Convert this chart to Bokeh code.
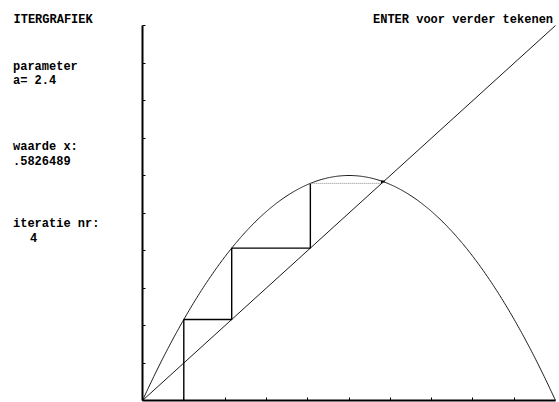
import numpy as np
from bokeh.plotting import figure
from bokeh.models import Range1d, FixedTicker, CustomLabelingPolicy
from bokeh.core.properties import value
from bokeh.embed import file_html
from bokeh.resources import INLINE

# ---- data ----
a_param = 2.4
iterates = [0.1, 0.216, 0.4064256, 0.5789851, 0.5850271, 0.5826489]
x_ticks = [0.1, 0.2, 0.3, 0.4, 0.5, 0.6, 0.7, 0.8, 0.9]
y_ticks = [0.1, 0.2, 0.3, 0.4, 0.5, 0.6, 0.7, 0.8, 0.9, 1.0]
texts = ["ITERGRAFIEK", "ENTER voor verder tekenen", "parameter", "a= 2.4",
         "waarde x:", ".5826489", "iteratie nr:", "4"]

# ---- layout (pixels) ----
W, H = 559, 402
OX, OY = 142, 400          # pixel position of data (0, 0)
SX, SY = 413, 375          # pixels per data unit

p = figure(width=W, height=H, output_backend="svg", toolbar_location=None,
           x_range=Range1d(-OX / SX, (W - OX) / SX),
           y_range=Range1d(-(H - OY) / SY, OY / SY),
           min_border=0)
p.grid.visible = False
p.outline_line_color = None
p.background_fill_color = "white"
p.border_fill_color = "white"

hide_all = CustomLabelingPolicy(code="for (const i of indices) indices.unset(i); return indices")
for ax, ticks in ((p.xaxis[0], x_ticks), (p.yaxis[0], y_ticks)):
    ax.fixed_location = 0
    ax.bounds = (0, 1)
    ax.ticker = FixedTicker(ticks=ticks)
    ax.major_tick_in = 3
    ax.major_tick_out = 0
    ax.minor_tick_in = 0
    ax.minor_tick_out = 0
    ax.major_label_text_font_size = "1px"
    ax.major_label_standoff = 0
    ax.major_label_policy = hide_all
    ax.axis_line_width = 2
    ax.axis_line_color = "black"
    ax.major_tick_line_color = "black"
    ax.major_tick_line_width = 1

# parabola y = a x (1-x)
xs = np.linspace(0, 1, 401)
p.line(xs, a_param * xs * (1 - xs), line_color="#1a1a1a", line_width=1)

# diagonal y = x
p.line([0, 1], [0, 1], line_color="#1a1a1a", line_width=1)

# cobweb
cx, cy = [iterates[0]], [0.0]
for i in range(len(iterates) - 1):
    cx += [iterates[i], iterates[i + 1]]
    cy += [iterates[i + 1], iterates[i + 1]]
p.line(cx[:6], cy[:6], line_color="black", line_width=1.4)
p.line(cx[5:7], cy[5:7], line_color="#888888", line_width=1, line_dash="1 1")
p.line(cx[6:], cy[6:], line_color="black", line_width=1.2)

# text positions in pixels (left, baseline)
px_x = [13, 372.5, 12.5, 12.5, 12.5, 12.5, 12.5, 29.5]
px_y = [19.3, 19.3, 66.5, 80.5, 146.5, 160, 223.5, 236.5]
tx = [(v - OX) / SX for v in px_x]
ty = [(OY - v) / SY for v in px_y]
p.text(x=tx, y=ty, text=texts, text_font=value("Liberation Mono"),
       text_font_style="bold", text_font_size="12px", text_color="black",
       text_align="left", text_baseline="alphabetic")

open("out.html", "w").write(file_html(p, INLINE))
